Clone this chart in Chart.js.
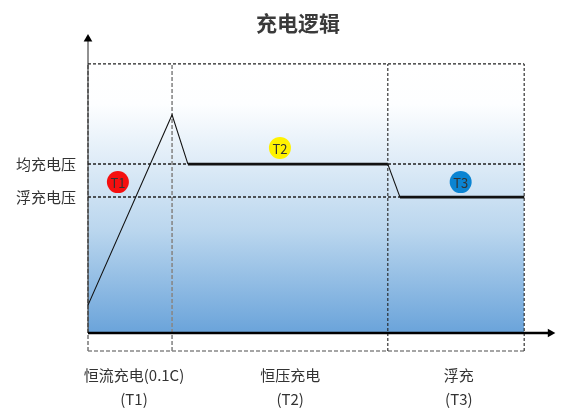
<!DOCTYPE html>
<html>
<head>
<meta charset="utf-8">
<title>充电逻辑</title>
<script src="https://cdn.jsdelivr.net/npm/chart.js@4.4.1/dist/chart.umd.min.js"></script>
<style>
  body { margin: 0; background: #fff; }
  #wrap { width: 569px; height: 408px; }
</style>
</head>
<body>
<div id="wrap"><canvas id="chart"></canvas></div>
<script>
// phase boundaries on the time axis (T1 end, T2 end, right edge)
var phaseX = [0, 18, 64.2, 93.4];
var phaseNames = ['恒流充电(0.1C)', '恒压充电', '浮充'];
var phaseTags = ['(T1)', '(T2)', '(T3)'];
// voltage levels
var levelNames = ['均充电压', '浮充电压'];
var levelY = [56.3, 45.3];
// the charging curve
var curveX = [0, 18, 21.4, 64.2, 66.8, 93.4];
var curveY = [9.3, 72.7, 56.3, 56.3, 45.3, 45.3];
// round markers
var markerNames = ['T1', 'T2', 'T3'];
var markerX = [6.4, 41.1, 79.8];
var markerY = [50.3, 61.7, 50.3];
var topY = 89.7;
var guideY = -6;

var markerColors = ['#f50f0f', '#fff200', '#0b84d2'];
var labelX = [9.85, 43.3, 79.4];

function pts(xs, ys) {
  return xs.map(function (x, i) { return { x: x, y: ys[i] }; });
}

function dashed(data, color, width, dash) {
  return {
    data: data, showLine: true, borderColor: color, borderWidth: width,
    borderDash: dash, pointRadius: 0, fill: false, order: 5, clip: false
  };
}

var datasets = [];

// gradient area
datasets.push({
  data: [{ x: phaseX[0], y: topY }, { x: phaseX[3], y: topY }],
  showLine: true, borderWidth: 0, pointRadius: 0, fill: 'origin', order: 10,
  backgroundColor: function (ctx) {
    var chart = ctx.chart;
    if (!chart.chartArea) return 'rgba(0,0,0,0)';
    var ys = chart.scales.y;
    var g = chart.ctx.createLinearGradient(0, ys.getPixelForValue(topY), 0, ys.getPixelForValue(0));
    g.addColorStop(0, '#ffffff');
    g.addColorStop(0.15, '#fdfeff');
    g.addColorStop(0.62, '#bad6ee');
    g.addColorStop(1, '#6aa3da');
    return g;
  }
});

// box top and voltage levels
datasets.push(dashed([{ x: phaseX[0], y: topY }, { x: phaseX[3], y: topY }], '#222', 1.3, [3, 2]));
levelY.forEach(function (v) {
  datasets.push(dashed([{ x: phaseX[0], y: v }, { x: phaseX[3], y: v }], '#222', 1.5, [3, 2]));
});
// phase dividers
datasets.push(dashed([{ x: phaseX[0], y: guideY }, { x: phaseX[0], y: topY }], '#777', 1.5, [4, 2]));
datasets.push(dashed([{ x: phaseX[1], y: guideY }, { x: phaseX[1], y: topY }], '#888', 1.6, [4, 2]));
datasets.push(dashed([{ x: phaseX[2], y: guideY }, { x: phaseX[2], y: topY }], '#222', 1.1, [3, 2]));
datasets.push(dashed([{ x: phaseX[3], y: guideY }, { x: phaseX[3], y: topY }], '#222', 1.1, [3, 2]));
datasets.push(dashed([{ x: phaseX[0], y: guideY }, { x: phaseX[3], y: guideY }], '#888', 1.4, [4, 2]));

// axes with arrow heads
datasets.push({
  data: [{ x: 0, y: 0 }, { x: 99, y: 0 }], showLine: true, borderColor: '#000', borderWidth: 2.6,
  pointRadius: [0, 5], pointStyle: 'triangle', pointRotation: 90, pointBorderWidth: 0,
  pointBackgroundColor: '#000', order: 3, clip: false
});
datasets.push({
  data: [{ x: 0, y: 0 }, { x: 0, y: 98 }], showLine: true, borderColor: '#222', borderWidth: 1,
  pointRadius: [0, 5], pointStyle: 'triangle', pointRotation: 0, pointBorderWidth: 0,
  pointBackgroundColor: '#000', order: 3, clip: false
});

// charging curve, thin on slopes, thick on the flat parts
datasets.push({
  data: pts(curveX, curveY), showLine: true, borderColor: '#111', borderWidth: 1,
  pointRadius: 0, order: 2, clip: false,
  segment: {
    borderWidth: function (ctx) {
      return ctx.p0.parsed.y === ctx.p1.parsed.y ? 2.6 : 1.1;
    }
  }
});

// markers
datasets.push({
  data: pts(markerX, markerY), showLine: false, pointRadius: 11, pointStyle: 'circle',
  pointBackgroundColor: markerColors, pointBorderWidth: 0, order: 1, clip: false
});

var textPlugin = {
  id: 'texts',
  afterDatasetsDraw: function (chart) {
    var c = chart.ctx, xs = chart.scales.x, ys = chart.scales.y;
    var fam = '"Noto Sans CJK SC", "Noto Sans", sans-serif';
    c.save();
    c.textBaseline = 'middle';

    c.fillStyle = '#3a3a3a';
    c.font = 'bold 21px ' + fam;
    c.textAlign = 'center';
    c.fillText('充电逻辑', 298, 23);

    c.fillStyle = '#333';
    c.font = '13px ' + fam;
    markerNames.forEach(function (n, i) {
      c.fillText(n, xs.getPixelForValue(markerX[i]), ys.getPixelForValue(markerY[i]) + 1);
    });

    c.font = '15px ' + fam;
    c.textAlign = 'right';
    levelNames.forEach(function (n, i) {
      c.fillText(n, xs.getPixelForValue(0) - 12, ys.getPixelForValue(levelY[i]));
    });

    c.font = '15px ' + fam;
    c.textAlign = 'center';
    phaseNames.forEach(function (n, i) {
      var x = xs.getPixelForValue(labelX[i]);
      c.fillText(n, x, 375);
      c.fillText(phaseTags[i], x, 399);
    });
    c.restore();
  }
};

new Chart(document.getElementById('chart'), {
  type: 'scatter',
  data: { datasets: datasets },
  options: {
    responsive: true,
    maintainAspectRatio: false,
    animation: false,
    layout: { padding: { left: 88, right: 14, top: 33, bottom: 45 } },
    scales: {
      x: { type: 'linear', min: 0, max: 100, display: false },
      y: { type: 'linear', min: -10, max: 100, display: false }
    },
    plugins: {
      legend: { display: false },
      tooltip: { enabled: false },
      title: { display: false }
    }
  },
  plugins: [textPlugin]
});
</script>
</body>
</html>
